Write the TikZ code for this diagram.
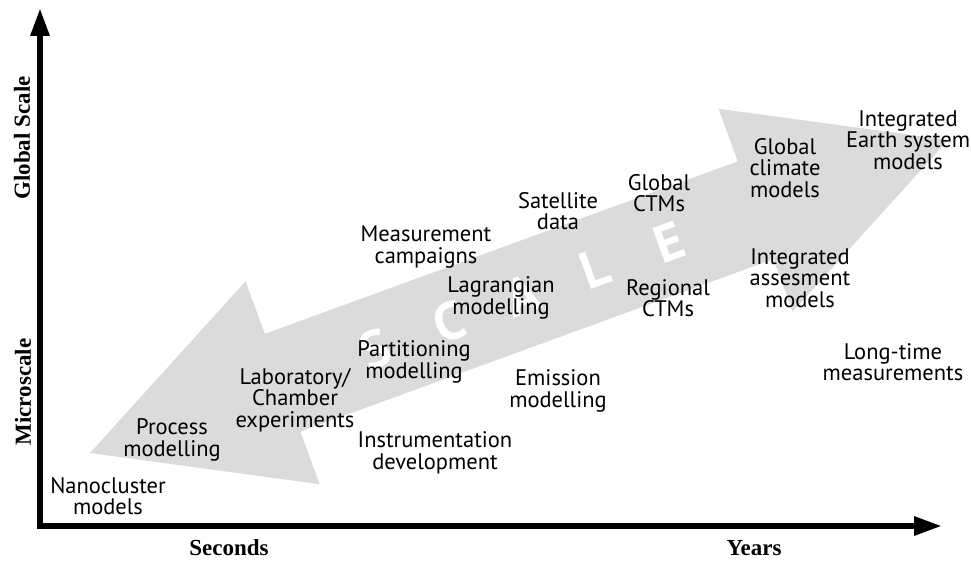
\documentclass[tikz,border=0pt]{standalone}
\usepackage{fontspec}
\usetikzlibrary{arrows.meta}
\newfontfamily\lblfont{PT Sans}
\newfontfamily\axfont{Liberation Serif}
\definecolor{arrowgray}{RGB}{219,219,219}
\begin{document}
\begin{tikzpicture}[x=1pt,y=1pt,
  lbl/.style={font=\lblfont\fontsize{22.5}{21.5}\selectfont, align=center, inner sep=0pt, text=black},
  axlbl/.style={font=\axfont\bfseries\fontsize{23}{23}\selectfont, inner sep=0pt},
  scl/.style={font=\lblfont\bfseries\fontsize{53}{53}\selectfont, text=white, inner sep=0pt, transform shape}]
\useasboundingbox (0,0) rectangle (971,560);
% big double arrow
\begin{scope}[shift={(90,107)}, rotate=20.04]
  \fill[arrowgray] (0,0) -- (205,108) -- (205,52) -- (708.5,52) -- (708.5,108)
     -- (913.5,0) -- (708.5,-108) -- (708.5,-52) -- (205,-52) -- (205,-108) -- cycle;
  \node[scl] (sS) at (304,0) {S};
  \node[scl] (sC) at (382,0) {C};
  \node[scl] (sA) at (460,0) {A};
  \node[scl] (sL) at (538,0) {L};
  \node[scl] (sE) at (616,0) {E};
\end{scope}
% axes
\coordinate (O) at (40,34);
\coordinate (ytop) at (40,552);
\coordinate (xend) at (942,34);
\draw[line width=6pt, line join=miter, {Triangle[length=28pt,width=18pt]}-{Triangle[length=28pt,width=18pt]}] (ytop) -- (O) -- (xend);
% axis labels
\node[axlbl, rotate=90] (glob) at (22,422) {Global Scale};
\node[axlbl, rotate=90] (micro) at (23,168) {Microscale};
\node[axlbl, anchor=base] (sec) at (229,5) {Seconds};
\node[axlbl, anchor=base] (yrs) at (754,5) {Years};
% labels
\node[lbl] (nano) at (108,64) {Nanocluster\\models};
\node[lbl] (proc) at (172,120) {Process\\modelling};
\node[lbl] (lab) at (295,160) {Laboratory/\\Chamber\\experiments};
\node[lbl] (part) at (414,198) {Partitioning\\modelling};
\node[lbl] (instr) at (435,107) {Instrumentation\\development};
\node[lbl] (emis) at (558,169) {Emission\\modelling};
\node[lbl] (lagr) at (501,262) {Lagrangian\\modelling};
\node[lbl] (meas) at (426,313) {Measurement\\campaigns};
\node[lbl] (sat) at (558,349) {Satellite\\data};
\node[lbl] (gctm) at (659,367) {Global\\CTMs};
\node[lbl] (rctm) at (668,262) {Regional\\CTMs};
\node[lbl] (gcm) at (785,392) {Global\\climate\\models};
\node[lbl] (iesm) at (908,420) {Integrated\\Earth system\\models};
\node[lbl] (iam) at (800,282) {Integrated\\assesment\\models};
\node[lbl] (long) at (893,198) {Long-time\\measurements};
\end{tikzpicture}
\end{document}
